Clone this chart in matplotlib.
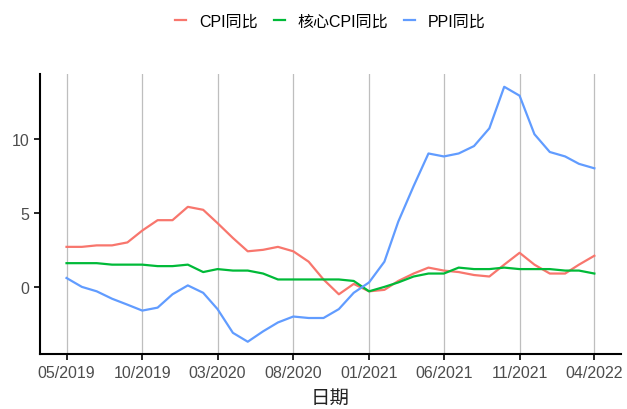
import matplotlib
matplotlib.use("Agg")
from matplotlib import pyplot as plt
import matplotlib.dates as mdates
import pandas as pd

plt.rcParams['font.family'] = ['Liberation Sans', 'Noto Sans CJK SC', 'DejaVu Sans']

dates = pd.date_range("2019-05-01", "2022-04-01", freq="MS")

cpi = [2.7, 2.7, 2.8, 2.8, 3.0, 3.8, 4.5, 4.5,
       5.4, 5.2, 4.3, 3.3, 2.4, 2.5, 2.7, 2.4, 1.7, 0.5, -0.5, 0.2,
       -0.3, -0.2, 0.4, 0.9, 1.3, 1.1, 1.0, 0.8, 0.7, 1.5, 2.3, 1.5,
       0.9, 0.9, 1.5, 2.1]
core_cpi = [1.6, 1.6, 1.6, 1.5, 1.5, 1.5, 1.4, 1.4,
            1.5, 1.0, 1.2, 1.1, 1.1, 0.9, 0.5, 0.5, 0.5, 0.5, 0.5, 0.4,
            -0.3, 0.0, 0.3, 0.7, 0.9, 0.9, 1.3, 1.2, 1.2, 1.3, 1.2, 1.2,
            1.2, 1.1, 1.1, 0.9]
ppi = [0.6, 0.0, -0.3, -0.8, -1.2, -1.6, -1.4, -0.5,
       0.1, -0.4, -1.5, -3.1, -3.7, -3.0, -2.4, -2.0, -2.1, -2.1, -1.5, -0.4,
       0.3, 1.7, 4.4, 6.8, 9.0, 8.8, 9.0, 9.5, 10.7, 13.5, 12.9, 10.3,
       9.1, 8.8, 8.3, 8.0]

series_names = ["CPI同比", "核心CPI同比", "PPI同比"]
colors = ["#F8766D", "#00BA38", "#619CFF"]
tick_dates = pd.date_range("2019-05-01", "2022-04-01", freq="5MS")

fig = plt.figure(figsize=(6.27, 4.10), dpi=100)
ax = fig.add_axes([0.064, 0.133, 0.926, 0.684])

for vals, name, c in zip([cpi, core_cpi, ppi], series_names, colors):
    ax.plot(dates, vals, color=c, lw=1.6, label=name)

span = dates[-1] - dates[0]
ax.set_xlim(dates[0] - span * 0.05, dates[-1] + span * 0.05)
lo, hi = min(ppi), max(ppi)
ax.set_ylim(lo - (hi - lo) * 0.05, hi + (hi - lo) * 0.05)

ax.set_xticks(tick_dates)
ax.xaxis.set_major_formatter(mdates.DateFormatter("%m/%Y"))
ax.set_yticks([0, 5, 10])
ax.grid(axis="x", color="#BEBEBE", lw=0.9)
ax.set_axisbelow(True)

for s in ["top", "right"]:
    ax.spines[s].set_visible(False)
for s in ["left", "bottom"]:
    ax.spines[s].set_linewidth(1.5)
    ax.spines[s].set_color("black")
ax.tick_params(axis="both", length=4, width=1.2, color="black",
               labelsize=11.5, labelcolor="#4D4D4D")
ax.set_xlabel("日期", fontsize=14, color="#222222", labelpad=7)

fig.legend(loc="center", bbox_to_anchor=(0.527, 0.946), ncol=3, frameon=False,
           fontsize=11.5, handlelength=0.7, handletextpad=0.8, columnspacing=1.0)

plt.savefig("out.png", dpi=100)
plt.close()
